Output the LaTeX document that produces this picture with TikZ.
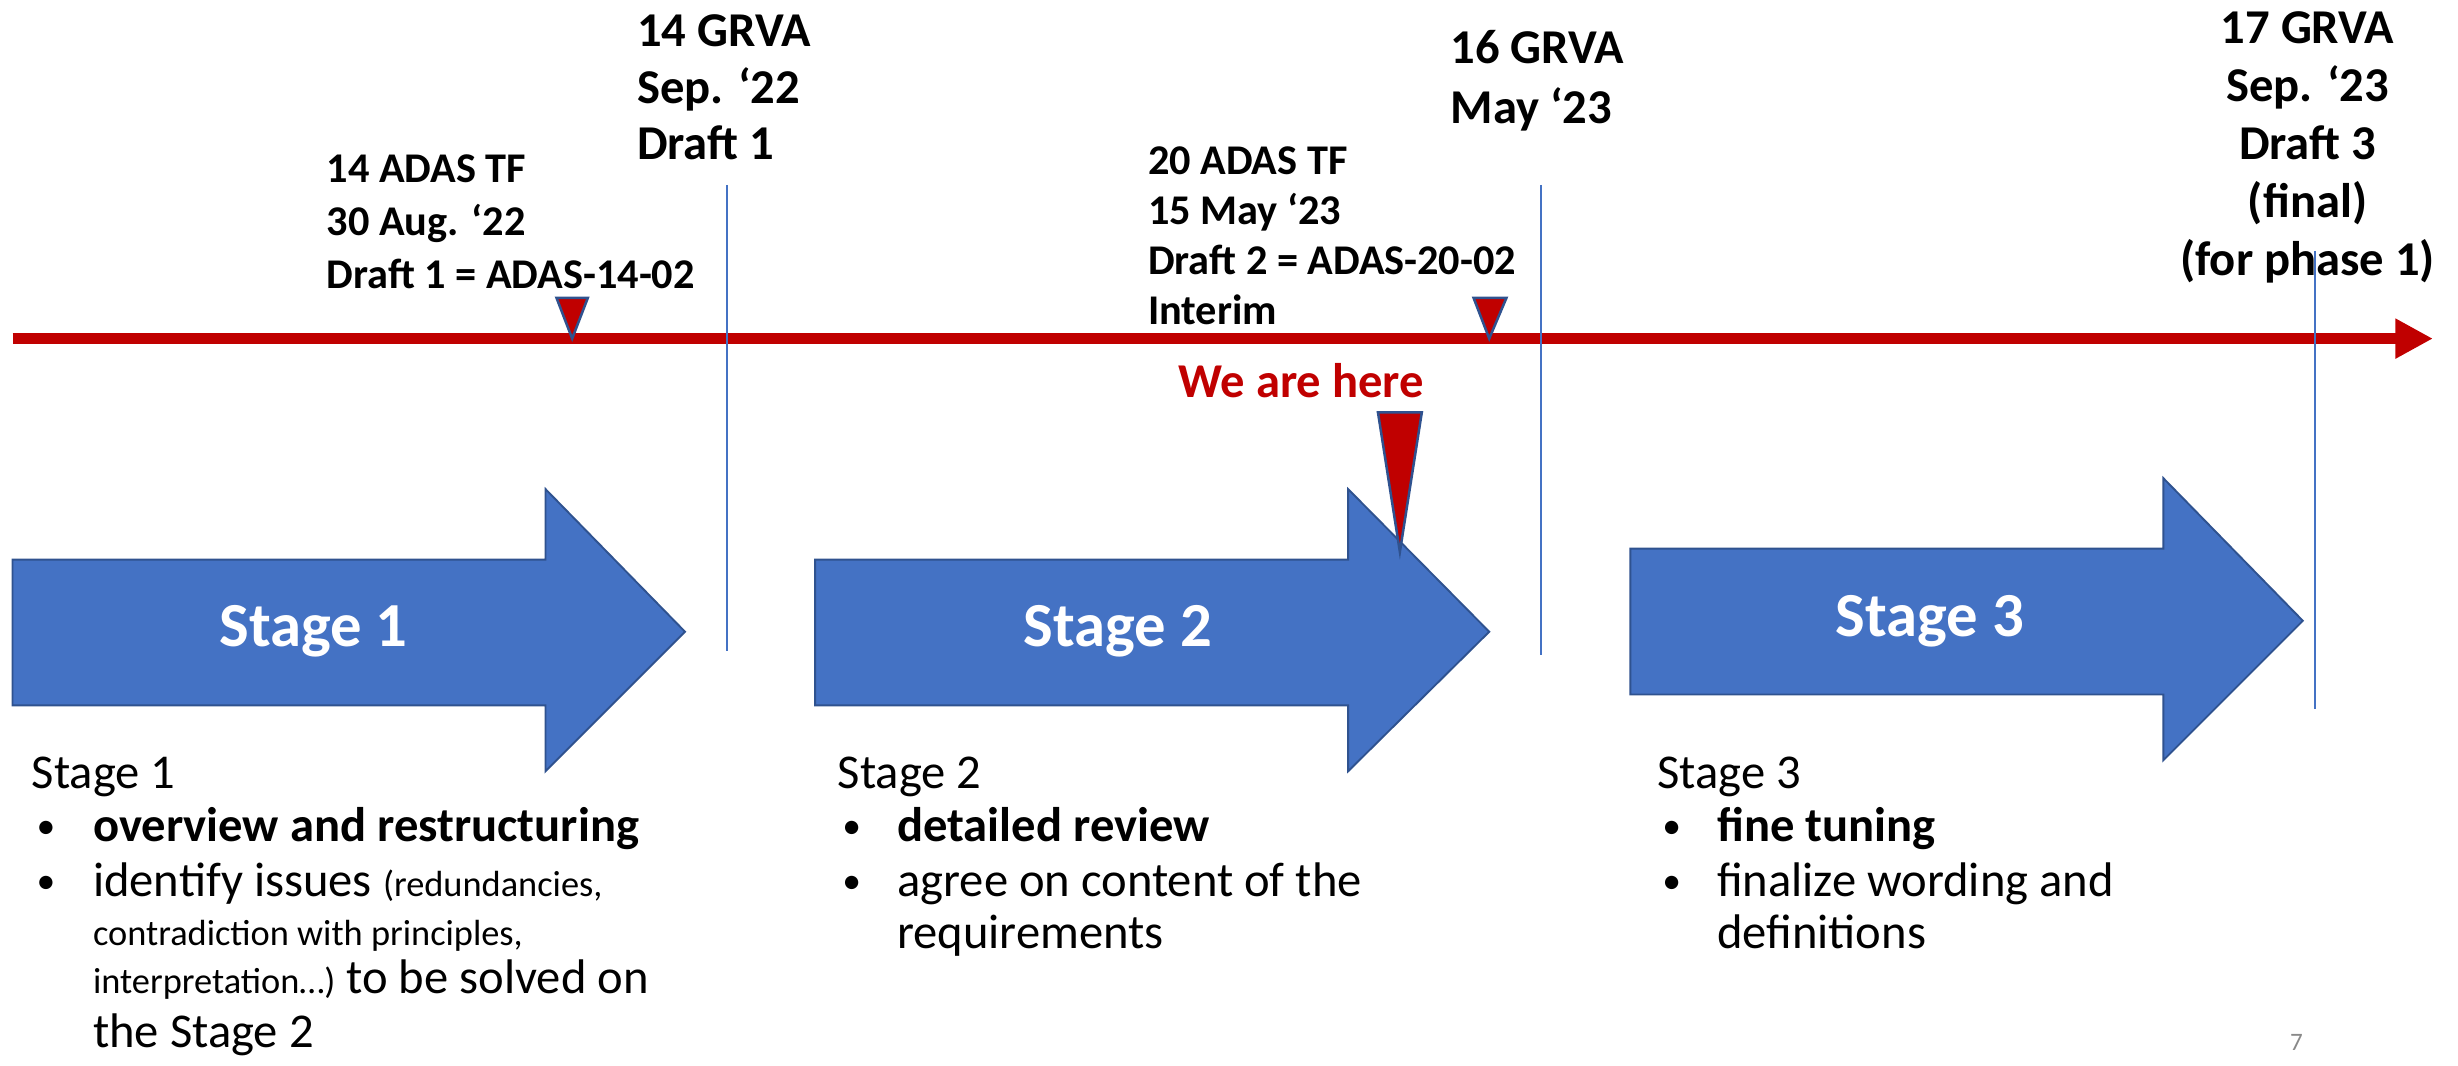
\documentclass[tikz,border=0pt]{standalone}
\usepackage{fontspec}
\setmainfont{Carlito}
\usetikzlibrary{arrows.meta}
\definecolor{tlred}{HTML}{C00000}
\definecolor{stblue}{HTML}{4472C4}
\definecolor{stedge}{HTML}{2F528F}
\definecolor{pgray}{HTML}{898989}
\newcommand{\bigf}{\fontsize{15.5}{18}\selectfont\bfseries}
\newcommand{\bodyf}{\fontsize{15.5}{17}\selectfont}
\newcommand{\smallf}{\fontsize{11.6}{13}\selectfont}
\newcommand{\bulf}{\fontsize{12}{13}\selectfont}
\begin{document}
\begin{tikzpicture}[x=0.5pt,y=-0.5pt,
  lbl/.style={inner sep=0pt, anchor=north west, align=left},
  bodyline/.style={inner sep=0pt, anchor=base west, font=\bodyf},
  bul/.style={inner sep=0pt, anchor=base west, font=\bulf},
  stagearrow/.style={fill=stblue, draw=stedge, line width=0.6pt, line join=miter},
  stagelbl/.style={inner sep=0pt, text=white, font=\fontsize{20}{24}\selectfont\bfseries},
  vline/.style={draw=stblue, line width=0.6pt},
  marker/.style={fill=tlred, draw=stedge, line width=0.8pt, line join=miter},
  timeline/.style={draw=tlred, line width=3.5pt, -{Triangle[length=12pt,width=12pt]}}
]
\useasboundingbox (0,0) rectangle (1568,679.4);

% timeline
\coordinate (tl0) at (8,216);
\coordinate (tl1) at (1552,216);
\path[timeline] (tl0) -- (tl1);

% vertical milestone lines
\coordinate (v1t) at (464,118); \coordinate (v1b) at (464,415);
\coordinate (v2t) at (983,118); \coordinate (v2b) at (983,418);
\coordinate (v3t) at (1477,160); \coordinate (v3b) at (1477,452);
\path[vline] (v1t) -- (v1b);
\path[vline] (v2t) -- (v2b);
\path[vline] (v3t) -- (v3b);

% small markers
\path[marker] (355,190) -- (375,190) -- (365,216) -- cycle;
\path[marker] (940,190) -- (961,190) -- (950,216) -- cycle;

% stage arrows
\path[stagearrow] (8,357) -- (348,357) -- (348,312) -- (437,403) -- (348,492) -- (348,450) -- (8,450) -- cycle;
\path[stagearrow] (520,357) -- (860,357) -- (860,312) -- (950,403) -- (860,492) -- (860,450) -- (520,450) -- cycle;
\path[stagearrow] (1040,350) -- (1380,350) -- (1380,305) -- (1469,396) -- (1380,485) -- (1380,443) -- (1040,443) -- cycle;
\node[stagelbl] (s1) at (200,403) {Stage 1};
\node[stagelbl] (s2) at (713,403) {Stage 2};
\node[stagelbl] (s3) at (1231,396) {Stage 3};

% we are here
\node[inner sep=0pt, text=tlred, font=\bigf] (here) at (830,243) {We are here};
\path[marker] (879,263) -- (907,263) -- (893,352) -- cycle;

% milestone labels
\node[lbl, font=\fontsize{15.5}{18}\selectfont\bfseries] (g14) at (406,9) {14 GRVA\\Sep. ‘22\\Draft 1};
\node[lbl, font=\fontsize{13.5}{17}\selectfont\bfseries] (a14) at (208,98) {14 ADAS TF\\30 Aug. ‘22\\Draft 1 = ADAS-14-02};
\node[lbl, font=\fontsize{15.5}{19}\selectfont\bfseries] (g16) at (925,19) {16 GRVA\\May ‘23};
\node[lbl, font=\fontsize{13.5}{16}\selectfont\bfseries] (a20) at (732,93) {20 ADAS TF\\15 May ‘23\\Draft 2 = ADAS-20-02\\Interim};
\node[inner sep=0pt, anchor=north, align=center, font=\fontsize{15.5}{18.5}\selectfont\bfseries] (g17) at (1472,7) {17 GRVA\\Sep. ‘23\\Draft 3\\(final)\\(for phase 1)};

% stage 1 text
\node[bodyline] (t1h) at (20,503) {Stage 1};
\node[bul] (t1b1) at (23,535) {•};
\node[bodyline] (t1l1) at (59,537) {\bfseries overview and restructuring};
\node[bul] (t1b2) at (23,570) {•};
\node[bodyline] (t1l2) at (59,572) {identify issues {\smallf(redundancies,}};
\node[bodyline] (t1l3) at (59,603) {\smallf contradiction with principles,};
\node[bodyline] (t1l4) at (59,634) {{\smallf interpretation…)} to be solved on};
\node[bodyline] (t1l5) at (59,668) {the Stage 2};

% stage 2 text
\node[bodyline] (t2h) at (534,503) {Stage 2};
\node[bul] (t2b1) at (537,535) {•};
\node[bodyline] (t2l1) at (572,537) {\bfseries detailed review};
\node[bul] (t2b2) at (537,570) {•};
\node[bodyline] (t2l2) at (572,572) {agree on content of the};
\node[bodyline] (t2l3) at (572,605) {requirements};

% stage 3 text
\node[bodyline] (t3h) at (1057,503) {Stage 3};
\node[bul] (t3b1) at (1060,535) {•};
\node[bodyline] (t3l1) at (1095,537) {\bfseries fine tuning};
\node[bul] (t3b2) at (1060,570) {•};
\node[bodyline] (t3l2) at (1095,572) {finalize wording and};
\node[bodyline] (t3l3) at (1095,605) {definitions};

% page number
\node[inner sep=0pt, text=pgray, font=\fontsize{8}{10}\selectfont] (pg) at (1465,665) {7};
\end{tikzpicture}
\end{document}
